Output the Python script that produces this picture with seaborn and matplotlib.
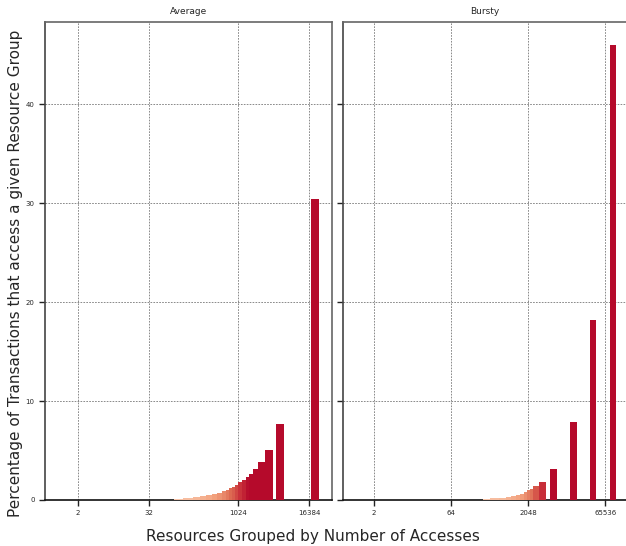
import numpy as np
import pandas as pd
import matplotlib
matplotlib.use("Agg")
import matplotlib.pyplot as plt
from matplotlib.colors import LinearSegmentedColormap, Normalize
import seaborn as sns

# bucket bounds (number of accesses) and share of transactions
avg_lo = [60, 85, 120, 178, 233, 295, 373, 453, 550, 643, 723, 813, 913, 1039, 1200, 1403, 1577, 1843, 2240, 2943, 4520, 17710]
avg_hi = [85, 120, 178, 233, 295, 373, 453, 550, 643, 723, 813, 913, 1039, 1200, 1403, 1577, 1843, 2240, 2943, 4020, 6173, 24190]
avg_pct = [0.03, 0.07, 0.17, 0.27, 0.37, 0.47, 0.6, 0.74, 0.88, 1.04, 1.2, 1.34, 1.55, 1.78, 2.02, 2.32, 2.63, 3.13, 3.84, 5.05, 7.68, 30.4]

bur_lo = [189, 270, 370, 555, 761, 953, 1194, 1429, 1711, 1958, 2241, 2566, 3360, 5514, 13560, 32330, 79490]
bur_hi = [270, 370, 555, 761, 953, 1194, 1429, 1711, 1958, 2241, 2566, 3360, 4542, 7553, 18590, 43730, 107500]
bur_pct = [0.05, 0.08, 0.17, 0.24, 0.34, 0.44, 0.54, 0.64, 0.8, 0.98, 1.1, 1.41, 1.82, 3.13, 7.88, 18.2, 46.0]

panels = ["Average", "Bursty"]
xticks = {"Average": [2, 32, 1024, 16384], "Bursty": [2, 64, 2048, 65536]}
xlims = {"Average": (0.552, 40180), "Bursty": (0.4955, 168700)}

df = pd.concat([
    pd.DataFrame({"workload": "Average", "lo": avg_lo, "hi": avg_hi, "pct": avg_pct}),
    pd.DataFrame({"workload": "Bursty", "lo": bur_lo, "hi": bur_hi, "pct": bur_pct}),
], ignore_index=True)

sns.set_style("white")
cmap = LinearSegmentedColormap.from_list("reds", ["#f9c9ae", "#f2a07c", "#dd6a52", "#c8303a", "#b50a2b"])
norm = Normalize(0, 2.4, clip=True)

g = sns.FacetGrid(df, col="workload", col_order=panels, sharex=False, sharey=True,
                  height=5.46, aspect=0.57, despine=False)
g.set_titles("{col_name}", size=6.5)

for ax, name in zip(g.axes.flat, panels):
    sub = df[df["workload"] == name]
    lo = sub["lo"].to_numpy(float)
    hi = sub["hi"].to_numpy(float)
    pct = sub["pct"].to_numpy(float)
    ax.set_xscale("log", base=2)
    ax.bar(lo, pct, width=hi - lo, align="edge", color=cmap(norm(pct)), linewidth=0, zorder=3)
    ax.set_xlim(*xlims[name])
    ax.set_xticks(xticks[name])
    ax.set_xticklabels([str(t) for t in xticks[name]])
    ax.xaxis.set_minor_locator(matplotlib.ticker.NullLocator())
    ax.set_yticks([0, 10, 20, 30, 40])
    ax.tick_params(axis="both", labelsize=5, length=4, width=1, direction="out",
                   left=True, bottom=True, color="#222")
    ax.grid(True, linestyle=(0, (2, 1.5)), color="#777", linewidth=0.6, zorder=0)
    for side in ["top", "right"]:
        ax.spines[side].set_color("#666")
        ax.spines[side].set_linewidth(1.2)
    ax.spines["left"].set_color("#444")
    ax.spines["left"].set_linewidth(1.2)
    ax.spines["bottom"].set_color("#111")
    ax.spines["bottom"].set_linewidth(1.2)
    ax.set_xlabel("")
    ax.set_ylabel("")

g.axes.flat[0].set_ylim(0, 48.3)
g.axes.flat[1].tick_params(axis="y", labelleft=False)

fig = g.figure
fig.set_size_inches(6.26, 5.46)
W, H = 626.0, 546.0
g.axes.flat[0].set_position([45 / W, 46 / H, 287 / W, 478 / H])
g.axes.flat[1].set_position([343 / W, 46 / H, 283.5 / W, 478 / H])
fig.supxlabel("Resources Grouped by Number of Accesses", fontsize=11, y=0.003)
fig.supylabel("Percentage of Transactions that access a given Resource Group", fontsize=11, x=0.012)

fig.savefig("out.png", dpi=100)
